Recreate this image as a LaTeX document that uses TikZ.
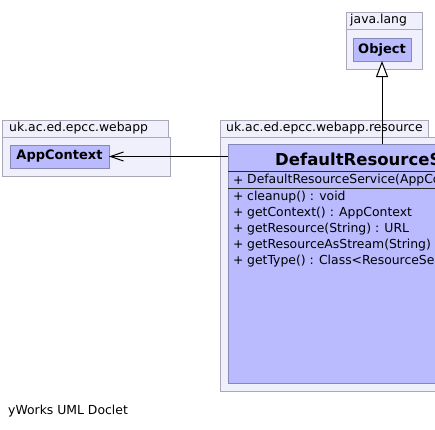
\documentclass[tikz,border=0pt]{standalone}
\usepackage{fontspec}
\setmainfont{DejaVu Sans}
\usetikzlibrary{arrows.meta}
\definecolor{pkgfill}{RGB}{240,240,252}
\definecolor{pkgline}{RGB}{168,168,184}
\definecolor{clsfill}{RGB}{186,186,255}
\definecolor{clsline}{RGB}{136,136,180}
\tikzset{
  pkgbox/.style={draw=pkgline, fill=pkgfill, line width=1pt, anchor=north west, inner sep=0pt, outer sep=0pt},
  clsbox/.style={draw=clsline, fill=clsfill, line width=1pt, anchor=north west, inner sep=0pt, outer sep=0pt},
  lbl/.style={anchor=west, inner sep=0pt, font=\fontsize{12.4}{14}\selectfont},
  bname/.style={font=\bfseries\fontsize{13}{15}\selectfont, inner sep=0pt},
  conn/.style={line width=1pt, draw=black}
}
\begin{document}
\begin{tikzpicture}[x=1pt,y=-1pt]
\useasboundingbox (0,0) rectangle (435,429);
\clip (0,0) rectangle (435,429);
\fill[white] (0,0) rectangle (435,429);
% java.lang package
\node[pkgbox, minimum width=76pt, minimum height=40pt] (jlbody) at (346,29) {};
\node[pkgbox, minimum width=76pt, minimum height=17pt] (jltab) at (346,12) {};
\node[lbl] (jllbl) at (350,20.5) {java.lang};
\node[clsbox, minimum width=58pt, minimum height=23pt] (obj) at (353,38) {};
\node[bname] (objlbl) at (obj.center) {Object};
% webapp package
\node[pkgbox, minimum width=168pt, minimum height=39pt] (wabody) at (2,137) {};
\node[pkgbox, minimum width=166pt, minimum height=17pt] (watab) at (2,120) {};
\node[lbl] (walbl) at (9,128.5) {uk.ac.ed.epcc.webapp};
\node[clsbox, minimum width=99pt, minimum height=23pt] (app) at (10,145) {};
\node[bname] (applbl) at (app.center) {AppContext};
% resource package
\node[pkgbox, minimum width=260pt, minimum height=254pt] (rsbody) at (220,137) {};
\node[pkgbox, minimum width=208pt, minimum height=17pt] (rstab) at (220,120) {};
\node[lbl] (rslbl) at (226,128.5) {uk.ac.ed.epcc.webapp.resource};
% class
\node[clsbox, minimum width=250pt, minimum height=239pt] (cls) at (228,144) {};
\node[anchor=west, inner sep=0pt, font=\bfseries\fontsize{16.5}{19}\selectfont] (clsname) at (275,159) {DefaultResourceService};
\draw[line width=1pt, draw=black!85] (cls.west |- 0,171) coordinate (s1) -- (s1 -| cls.east);
\draw[line width=1pt, draw=black!85] (cls.west |- 0,188) coordinate (s2) -- (s2 -| cls.east);
\node[lbl] (c0p) at (233,180.5) {+};
\node[lbl] (c0) at (247,180.5) {DefaultResourceService(AppContext)};
\node[lbl] (m1p) at (233,197) {+};
\node[lbl] (m1) at (247,197) {cleanup() : void};
\node[lbl] (m2p) at (233,213) {+};
\node[lbl] (m2) at (247,213) {getContext() : AppContext};
\node[lbl] (m3p) at (233,229) {+};
\node[lbl] (m3) at (247,229) {getResource(String) : URL};
\node[lbl] (m4p) at (233,245) {+};
\node[lbl] (m4) at (247,245) {getResourceAsStream(String) : InputStream};
\node[lbl] (m5p) at (233,261) {+};
\node[lbl] (m5) at (247,261) {getType() : Class<ResourceService>};
% connectors
\draw[conn, -{Triangle[open, length=16pt, width=12pt, fill=white]}] (obj.south |- cls.north) -- (obj.south);
\draw[conn, -{Straight Barb[length=13pt, width=9pt]}] (cls.west |- app.east) -- (app.east);
% footer
\node[lbl] (footer) at (8,411.5) {yWorks UML Doclet};
\end{tikzpicture}
\end{document}
